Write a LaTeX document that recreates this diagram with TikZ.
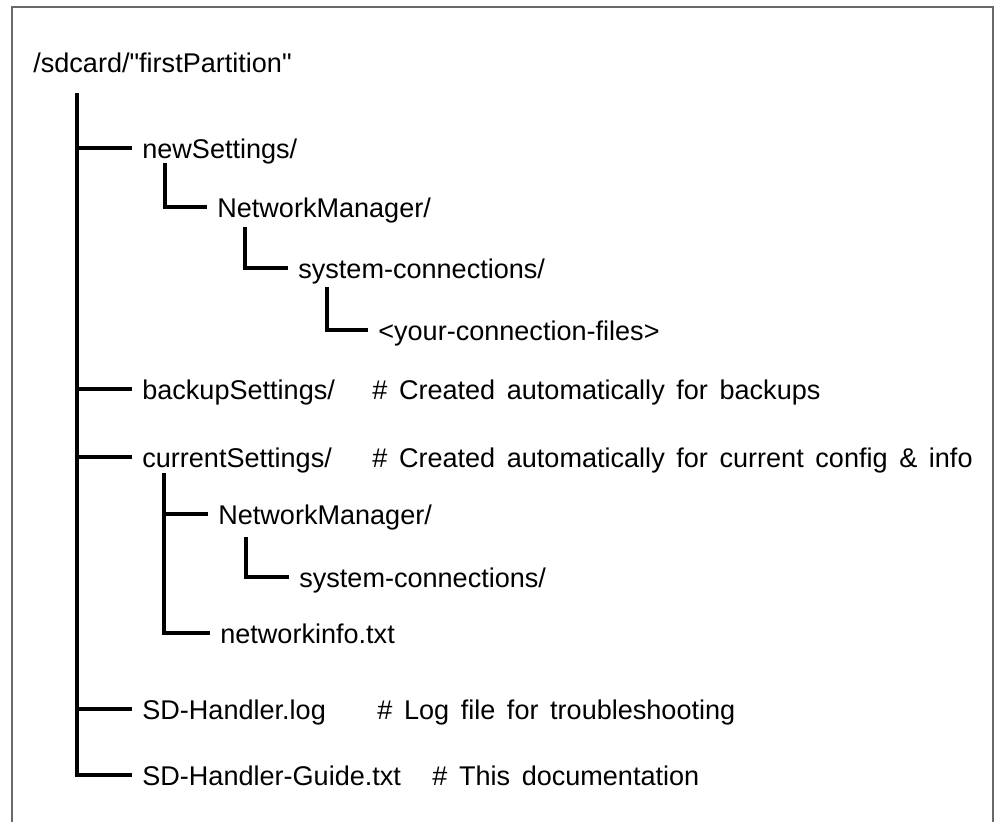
\documentclass[tikz,border=0pt]{standalone}
\usepackage{fontspec}
\setmainfont{Liberation Sans}[Ligatures=TeXOff]
\usetikzlibrary{calc}
\definecolor{framegray}{RGB}{105,105,105}
\definecolor{treeink}{RGB}{0,0,0}
\newcommand\entryfont{\fontsize{15.4}{18}\selectfont}
\newcommand\notefont{\entryfont\spaceskip 0.43em\relax}
\tikzset{
  entry/.style={
    anchor=west, inner xsep=0.2cm, inner ysep=0pt,
    text height=0.4cm, text depth=0pt,
    font=\entryfont
  },
  note/.style={entry, font=\notefont},
  treeline/.style={draw=treeink, line width=1.9pt},
  framebox/.style={draw=framegray, line width=1.1pt}
}

\begin{document}
\begin{tikzpicture}[x=0.02cm, y=-0.02cm]
  \useasboundingbox (0,0) rectangle (1000,822);

  % Outer frame, open at the bottom
  \draw[framebox] (12,822) -- (12,7) -- (993,7) -- (993,822);

  % Root
  \node[entry] (root) at (23,62) {/sdcard/"firstPartition"};

  % Level 1
  \node[entry] (newset) at (132,148) {newSettings/};
  \node[entry] (backup) at (132,389) {backupSettings/};
  \node[entry] (current) at (132,457) {currentSettings/};
  \node[entry] (sdlog) at (132,709) {SD-Handler.log};
  \node[entry] (guide) at (132,775) {SD-Handler-Guide.txt};

  % Level 2 and below, newSettings branch
  \node[entry] (nmA) at (207,207) {NetworkManager/};
  \node[entry] (sysA) at (288,268) {system-connections/};
  \node[entry] (conn) at (368,330) {<your-connection-files>};

  % Level 2 and below, currentSettings branch
  \node[entry] (nmB) at (208,514) {NetworkManager/};
  \node[entry] (sysB) at (289,577) {system-connections/};
  \node[entry] (netinfo) at (210,633) {networkinfo.txt};

  % Comments
  \node[note] (backupnote) at (362,389) {\# Created automatically for backups};
  \node[note] (currentnote) at (362,457) {\# Created automatically for current config \& info};
  \node[note] (sdlognote) at (367,709) {\# Log file for troubleshooting};
  \node[note] (guidenote) at (422,775) {\# This documentation};

  % Trunk
  \coordinate (trunktop) at (77,93);
  \draw[treeline] (trunktop) |- (guide.west);
  \draw[treeline] (newset.west) -- (newset.west -| trunktop);
  \draw[treeline] (backup.west) -- (backup.west -| trunktop);
  \draw[treeline] (current.west) -- (current.west -| trunktop);
  \draw[treeline] (sdlog.west) -- (sdlog.west -| trunktop);

  % newSettings branch
  \coordinate (newsetdrop) at (165,163);
  \draw[treeline] (newsetdrop) |- (nmA.west);
  \coordinate (nmAdrop) at (245,227);
  \draw[treeline] (nmAdrop) |- (sysA.west);
  \coordinate (sysAdrop) at (327,287);
  \draw[treeline] (sysAdrop) |- (conn.west);

  % currentSettings branch
  \coordinate (curdrop) at (164,473);
  \draw[treeline] (curdrop) |- (netinfo.west);
  \draw[treeline] (nmB.west) -- (nmB.west -| curdrop);
  \coordinate (nmBdrop) at (246,537);
  \draw[treeline] (nmBdrop) |- (sysB.west);

\end{tikzpicture}
\end{document}
